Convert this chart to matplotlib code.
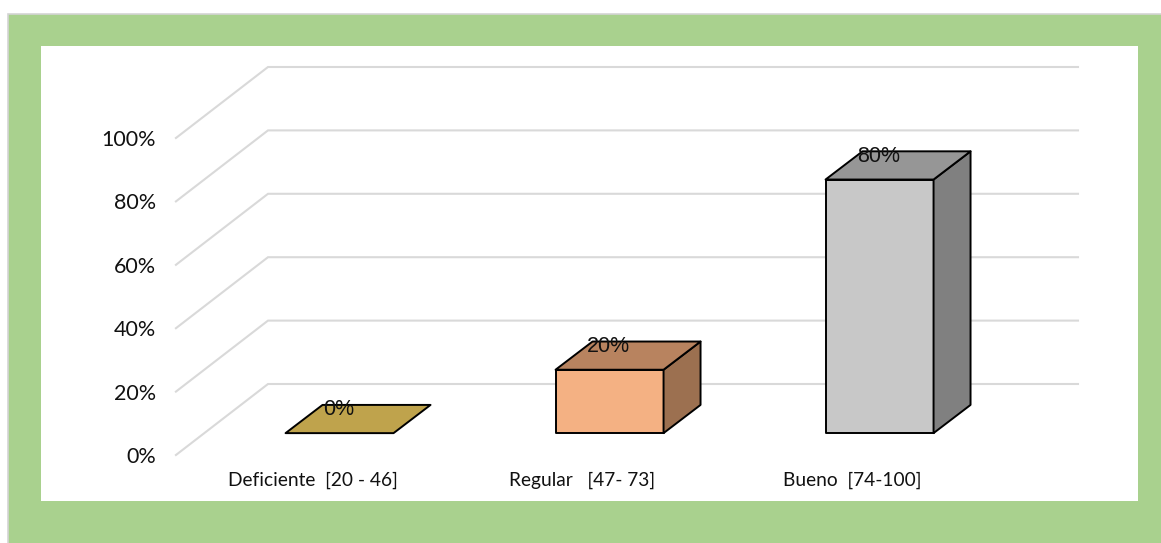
import matplotlib
matplotlib.use('Agg')
import matplotlib.pyplot as plt
from matplotlib.patches import Polygon, Rectangle

categorias = ['Deficiente  [20 - 46]', 'Regular   [47- 73]', 'Bueno  [74-100]']
valores = [0, 20, 80]
etiquetas = ['0%', '20%', '80%']
ticks = [0, 20, 40, 60, 80, 100]
tick_labels = ['0%', '20%', '40%', '60%', '80%', '100%']
frentes = ['#BFA34C', '#F4B183', '#C8C8C8']
tapas = ['#BFA34C', '#B8835F', '#969696']
lados = ['#BFA34C', '#9C7050', '#808080']

W, H = 1161, 543
plt.rcParams['font.family'] = ['Lato', 'DejaVu Sans']

fig = plt.figure(figsize=(W / 100, H / 100), dpi=100, facecolor='white')

# marco verde y fondo blanco, en pixeles
bg = fig.add_axes([0, 0, 1, 1])
bg.set_xlim(0, W)
bg.set_ylim(H, 0)
bg.axis('off')
bg.add_patch(Rectangle((7.5, 13.5), W, H, fc='#A9D18E', ec='#D4D4D4', lw=1.2))
bg.add_patch(Rectangle((41, 46), 1097, 455, fc='white', ec='none'))

# ejes = pared del fondo del grafico 3D
ax = fig.add_axes([268 / W, 1 - 384 / H, 810 / W, 317 / H])
ax.set_xlim(-0.5, 2.5)
ax.set_ylim(0, 100)
ax.axis('off')
ax.patch.set_alpha(0)

piso_x, piso_y = -0.341, -22.4   # profundidad del piso
ancho = 0.4
frente_x, frente_y = -0.235, -15.5
fondo_x, fondo_y = -0.098, -6.6

# lineas de division
for t, lab in zip(ticks, tick_labels):
    ax.plot([piso_x - 0.5, -0.5, 2.5], [t + piso_y, t, t], color='#D9D9D9', lw=1.5,
            clip_on=False, zorder=1, solid_joinstyle='miter')
    ax.annotate(lab, (-0.5 + piso_x, t + piso_y), xytext=(-20, -2), textcoords='offset pixels',
                ha='right', va='center', fontsize=15.5, color='#111111', annotation_clip=False)

# barras
for i, (v, et) in enumerate(zip(valores, etiquetas)):
    x0 = i + frente_x - ancho / 2
    x1 = i + frente_x + ancho / 2
    y0 = frente_y
    y1 = frente_y + v
    dx = fondo_x - frente_x
    dy = fondo_y - frente_y
    estilo = dict(ec='black', lw=1.4, joinstyle='round', clip_on=False, zorder=3)
    if v > 0:
        ax.add_patch(Polygon([(x0, y0), (x1, y0), (x1, y1), (x0, y1)], fc=frentes[i], **estilo))
        ax.add_patch(Polygon([(x1, y0), (x1 + dx, y0 + dy), (x1 + dx, y1 + dy), (x1, y1)], fc=lados[i], **estilo))
    ax.add_patch(Polygon([(x0, y1), (x1, y1), (x1 + dx, y1 + dy), (x0 + dx, y1 + dy)], fc=tapas[i], **estilo))
    ax.text(i + frente_x - 0.004, y1 + 7.3, et, ha='center', va='center', fontsize=15.5,
            family=['Liberation Sans', 'DejaVu Sans'], color='#111111', zorder=4, clip_on=False)
    ax.text(i + frente_x - 0.1, -30.5, categorias[i], ha='center', va='center',
            fontsize=13.8, color='#111111', clip_on=False)

fig.savefig('out.png', dpi=100)
